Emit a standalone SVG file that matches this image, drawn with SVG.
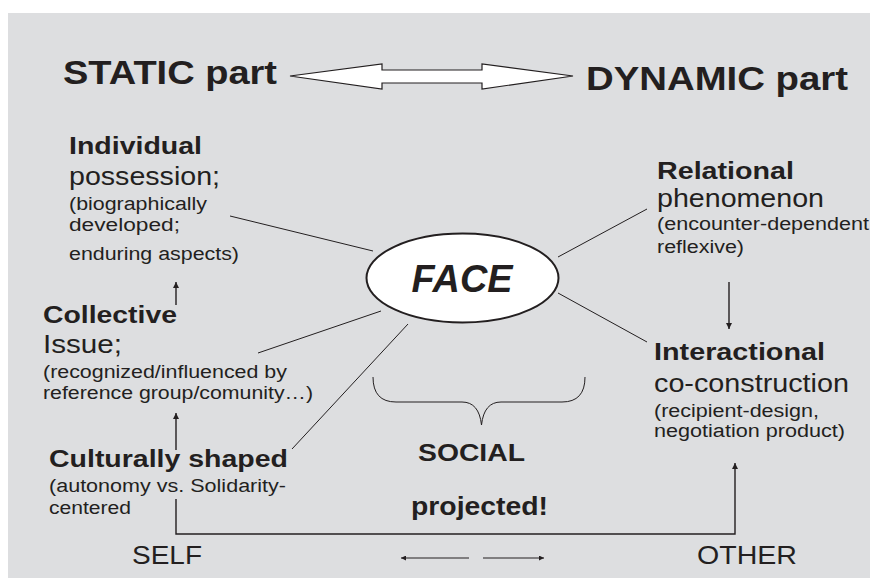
<svg xmlns="http://www.w3.org/2000/svg" width="870" height="579" viewBox="0 0 870 579">
<defs>
<style>
text{font-family:"Liberation Sans",Arial,sans-serif;fill:#231f20}
.b{font-weight:700}
.h{font-size:34px;font-weight:700}
.hd{font-size:23px;font-weight:700}
.lg{font-size:25px}
.sm{font-size:18px}
.ln{stroke:#231f20;stroke-width:1;fill:none}
.ar{stroke:#231f20;stroke-width:1.4;fill:none}
</style>
<marker id="ah" viewBox="0 0 10 10" refX="10" refY="5" markerUnits="userSpaceOnUse" markerWidth="8" markerHeight="6" orient="auto">
<path d="M0,0 L10,5 L0,10 z" fill="#231f20"/>
</marker>
<marker id="ahs" viewBox="0 0 10 10" refX="10" refY="5" markerUnits="userSpaceOnUse" markerWidth="7" markerHeight="5" orient="auto">
<path d="M0,0 L10,5 L0,10 z" fill="#231f20"/>
</marker>
</defs>
<rect x="0" y="0" width="870" height="579" fill="#ffffff"/>
<rect x="8" y="13" width="862" height="565" fill="#dddee0"/>

<g id="static">
<text class="h" x="63" y="84" textLength="214" lengthAdjust="spacingAndGlyphs">STATIC part</text>
</g>
<g id="dynamic">
<text class="h" x="586" y="90" textLength="262" lengthAdjust="spacingAndGlyphs">DYNAMIC part</text>
</g>
<g id="double-arrow">
<polygon points="290,76 382,64 382,70 482,70 482,64 573,76 482,89 482,83 382,83 382,89" fill="#ffffff" stroke="#231f20" stroke-width="1.2"/>
</g>

<g id="connectors">
<line class="ln" x1="230" y1="216" x2="373" y2="251"/>
<line class="ln" x1="258" y1="353" x2="381" y2="311"/>
<line class="ln" x1="292" y1="449" x2="408" y2="324"/>
<line class="ln" x1="558" y1="257" x2="647" y2="209"/>
<line class="ln" x1="558" y1="293" x2="647" y2="342"/>
<line class="ar" x1="176" y1="305" x2="176" y2="282" marker-end="url(#ah)"/>
<line class="ar" x1="176" y1="450" x2="176" y2="413" marker-end="url(#ah)"/>
<line class="ar" x1="729" y1="282" x2="729" y2="329" marker-end="url(#ah)"/>
<polyline class="ar" points="176,499 176,534 735,534 735,463" marker-end="url(#ah)"/>
<line class="ln" x1="469" y1="558" x2="401" y2="558" marker-end="url(#ahs)"/>
<line class="ln" x1="483" y1="558" x2="544" y2="558" marker-end="url(#ahs)"/>
</g>

<g id="face">
<ellipse cx="462.5" cy="278" rx="96" ry="44.5" fill="#ffffff" stroke="#231f20" stroke-width="2"/>
<text x="462" y="292" font-size="38" font-weight="700" font-style="italic" text-anchor="middle" textLength="101" lengthAdjust="spacingAndGlyphs">FACE</text>
</g>

<g id="individual">
<text class="hd" x="69" y="154" textLength="133" lengthAdjust="spacingAndGlyphs">Individual</text>
<text class="lg" x="69" y="185" textLength="151" lengthAdjust="spacingAndGlyphs">possession;</text>
<text class="sm" x="69" y="210" textLength="138" lengthAdjust="spacingAndGlyphs">(biographically</text>
<text class="sm" x="69" y="231" textLength="111" lengthAdjust="spacingAndGlyphs">developed;</text>
<text class="sm" x="69" y="260" textLength="170" lengthAdjust="spacingAndGlyphs">enduring aspects)</text>
</g>

<g id="collective">
<text class="hd" x="43" y="323" textLength="134" lengthAdjust="spacingAndGlyphs">Collective</text>
<text class="lg" x="43" y="353" textLength="79" lengthAdjust="spacingAndGlyphs">Issue;</text>
<text class="sm" x="43" y="378" textLength="244" lengthAdjust="spacingAndGlyphs">(recognized/influenced by</text>
<text class="sm" x="43" y="399" textLength="270" lengthAdjust="spacingAndGlyphs">reference group/comunity…)</text>
</g>

<g id="cultural">
<text class="hd" x="49" y="467" textLength="239" lengthAdjust="spacingAndGlyphs">Culturally shaped</text>
<text class="sm" x="49" y="492" textLength="237" lengthAdjust="spacingAndGlyphs">(autonomy vs. Solidarity-</text>
<text class="sm" x="49" y="514" textLength="82" lengthAdjust="spacingAndGlyphs">centered</text>
</g>

<g id="relational">
<text class="hd" x="657" y="179" textLength="137" lengthAdjust="spacingAndGlyphs">Relational</text>
<text class="lg" x="657" y="207" textLength="167" lengthAdjust="spacingAndGlyphs">phenomenon</text>
<text class="sm" x="657" y="230" textLength="212" lengthAdjust="spacingAndGlyphs">(encounter-dependent</text>
<text class="sm" x="657" y="253" textLength="87" lengthAdjust="spacingAndGlyphs">reflexive)</text>
</g>

<g id="interactional">
<text class="hd" x="654" y="360" textLength="171" lengthAdjust="spacingAndGlyphs">Interactional</text>
<text class="lg" x="654" y="392" textLength="195" lengthAdjust="spacingAndGlyphs">co-construction</text>
<text class="sm" x="654" y="417" textLength="165" lengthAdjust="spacingAndGlyphs">(recipient-design,</text>
<text class="sm" x="654" y="437" textLength="191" lengthAdjust="spacingAndGlyphs">negotiation product)</text>
</g>

<g id="social">
<path class="ln" d="M373,377 Q373,402 396,402 L462,402 Q479,402 481.5,425 Q484,402 501,402 L562,402 Q585,402 585,377"/>
<text class="b" font-size="24" x="418" y="461" textLength="107" lengthAdjust="spacingAndGlyphs">SOCIAL</text>
<text class="b" font-size="25" x="411" y="515" textLength="137" lengthAdjust="spacingAndGlyphs">projected!</text>
</g>

<g id="self">
<text font-size="26" x="132" y="564" textLength="70" lengthAdjust="spacingAndGlyphs">SELF</text>
</g>
<g id="other">
<text font-size="26" x="697" y="564" textLength="100" lengthAdjust="spacingAndGlyphs">OTHER</text>
</g>
</svg>
